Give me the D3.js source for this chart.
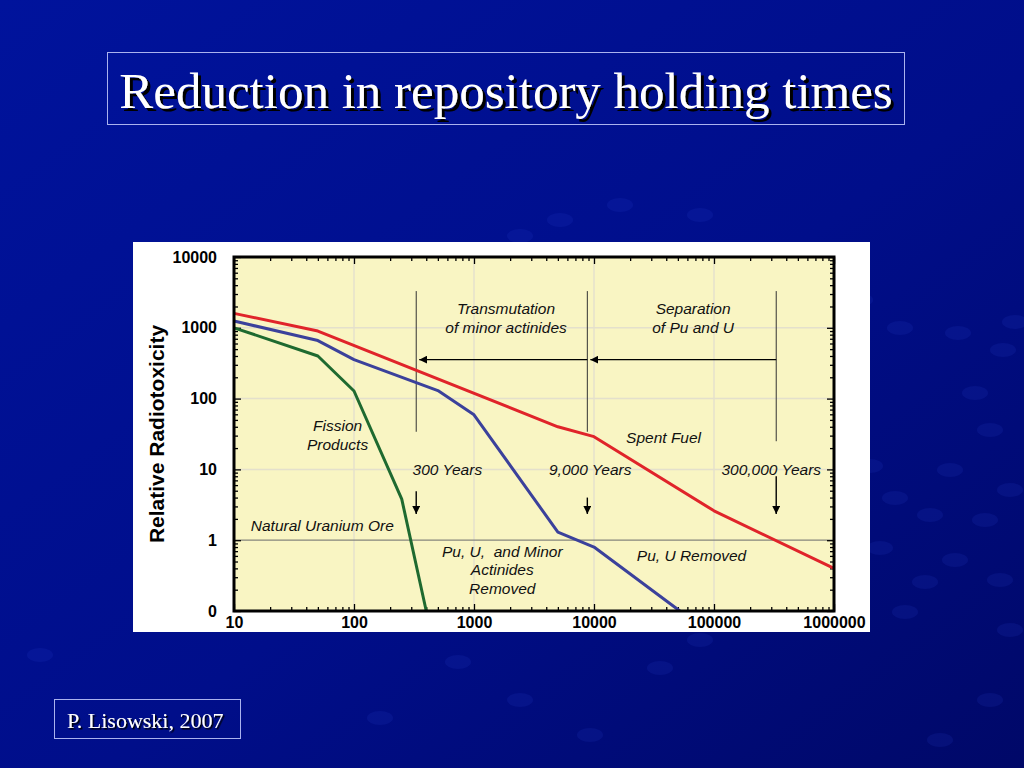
<!DOCTYPE html>
<html>
<head>
<meta charset="utf-8">
<script src="https://cdn.jsdelivr.net/npm/d3@7"></script>
<style>
  html, body { margin: 0; padding: 0; background: #000c8a; }
  svg { display: block; }
  .tick text { font-family: "Liberation Sans", Arial, sans-serif; font-weight: bold; font-size: 16px; fill: #000; }
  .note { font-family: "Liberation Sans", Arial, sans-serif; font-style: italic; font-size: 15.5px; fill: #111; }
</style>
</head>
<body>
<svg id="slide" width="1024" height="768"></svg>
<script>
// data (years after discharge, relative radiotoxicity)
const spentFuelYears = [10, 50, 5000, 10000, 100000, 1000000];
const spentFuelTox   = [1600, 900, 40, 29, 2.6, 0.4];

const puURemovedYears = [10, 50, 100, 500, 1000, 5000, 10000, 52000];
const puURemovedTox   = [1250, 660, 355, 130, 59, 1.3, 0.8, 0.1];

const fissionYears = [10, 50, 100, 250, 400];
const fissionTox   = [1000, 400, 128, 3.8, 0.1];

const xTicks = [10, 100, 1000, 10000, 100000, 1000000];
const yTicks = [0.1, 1, 10, 100, 1000, 10000];
const yTickLabels = ["0", "1", "10", "100", "1000", "10000"];

const uraniumOre = 1;

// holding-time markers
const holdingLabels = ["300 Years", "9,000 Years", "300,000 Years"];
const holdingYears  = [330, 8800, 330000];
const holdingLineBottom = [34, 34, 25];
const holdingLineTop = 3300;
const holdingArrowTop = [4.9, 4.0, 8.0];
const holdingArrowTip = 2.35;
const holdingLabelYears = [600, 9300, 300000];
const separationArrowY = 355;

// text notes: [text, years, value, anchor]
const notes = [
  ["Transmutation", 1850, 1860, "middle"],
  ["of minor actinides", 1850, 1000, "middle"],
  ["Separation", 67000, 1860, "middle"],
  ["of Pu and U", 67000, 1000, "middle"],
  ["Fission", 73, 41, "middle"],
  ["Products", 73, 22.5, "middle"],
  ["Spent Fuel", 38000, 28, "middle"],
  ["Natural Uranium Ore", 13.8, 1.63, "start"],
  ["Pu, U,\u00a0 and Minor", 1720, 0.7, "middle"],
  ["Actinides", 1720, 0.38, "middle"],
  ["Removed", 1720, 0.205, "middle"],
  ["Pu, U Removed", 65000, 0.6, "middle"]
];

const svg = d3.select("#slide");
const W = +svg.attr("width"), H = +svg.attr("height");

// background
const defs = svg.append("defs");
const bg = defs.append("linearGradient").attr("id", "bg")
  .attr("x1", "0").attr("y1", "0").attr("x2", "1").attr("y2", "1");
bg.append("stop").attr("offset", "0").attr("stop-color", "#00139c");
bg.append("stop").attr("offset", "0.55").attr("stop-color", "#000e8a");
bg.append("stop").attr("offset", "1").attr("stop-color", "#000868");
svg.append("rect").attr("width", W).attr("height", H).attr("fill", "url(#bg)");

const shadow = defs.append("filter").attr("id", "shadow")
  .attr("x", "-5%").attr("y", "-20%").attr("width", "110%").attr("height", "140%");
shadow.append("feDropShadow").attr("dx", 3).attr("dy", 3).attr("stdDeviation", 0.6)
  .attr("flood-color", "#000").attr("flood-opacity", 1);
const shadowSmall = defs.append("filter").attr("id", "shadowSmall")
  .attr("x", "-5%").attr("y", "-20%").attr("width", "110%").attr("height", "140%");
shadowSmall.append("feDropShadow").attr("dx", 1.5).attr("dy", 1.5).attr("stdDeviation", 0.4)
  .attr("flood-color", "#000").attr("flood-opacity", 1);

// faint bubble texture
const bubbles = [[958,333],[1003,350],[1015,322],[975,393],[990,430],[950,470],[930,515],[1010,490],
  [985,520],[955,560],[905,612],[925,582],[880,548],[895,498],[870,466],[1000,580],[1010,630],
  [590,735],[660,668],[458,662],[520,700],[380,718],[700,640],[40,655],[990,700],[940,740],
  [560,220],[620,205],[700,215],[520,236],[900,328],[860,300]];
svg.append("g").selectAll("ellipse").data(bubbles).join("ellipse")
  .attr("cx", d => d[0]).attr("cy", d => d[1]).attr("rx", 13).attr("ry", 7)
  .attr("fill", "#2a4ad8").attr("opacity", 0.14);

// title
svg.append("rect").attr("x", 107.5).attr("y", 52.5).attr("width", 797).attr("height", 72)
  .attr("fill", "none").attr("stroke", "#aab2ee").attr("stroke-width", 1);
svg.append("text").attr("x", 506).attr("y", 108).attr("text-anchor", "middle")
  .attr("font-family", "Liberation Serif, Times New Roman, serif").attr("font-size", 51)
  .attr("fill", "#fff").attr("filter", "url(#shadow)")
  .text("Reduction in repository holding times");

// footer
svg.append("rect").attr("x", 54.5).attr("y", 699.5).attr("width", 186).attr("height", 39)
  .attr("fill", "none").attr("stroke", "#aab2ee").attr("stroke-width", 1);
svg.append("text").attr("x", 67).attr("y", 728)
  .attr("font-family", "Liberation Serif, Times New Roman, serif").attr("font-size", 22)
  .attr("fill", "#fff").attr("filter", "url(#shadowSmall)").text("P. Lisowski, 2007");

// chart panel
svg.append("rect").attr("x", 133).attr("y", 242).attr("width", 737).attr("height", 390).attr("fill", "#fff");

const plot = { left: 234, top: 257, right: 834, bottom: 611 };
const x = d3.scaleLog().domain([10, 1000000]).range([plot.left, plot.right]);
const y = d3.scaleLog().domain([0.1, 10000]).range([plot.bottom, plot.top]);

const chart = svg.append("g");
chart.append("rect").attr("x", plot.left).attr("y", plot.top)
  .attr("width", plot.right - plot.left).attr("height", plot.bottom - plot.top)
  .attr("fill", "#f9f5c3");

// grid
chart.append("g").selectAll("line.vg").data(xTicks.slice(1, -1)).join("line")
  .attr("x1", d => x(d)).attr("x2", d => x(d)).attr("y1", plot.top).attr("y2", plot.bottom)
  .attr("stroke", "#e4e0cc").attr("stroke-width", 1.5);
chart.append("g").selectAll("line.hg").data(yTicks.slice(1, -1).filter(d => d !== uraniumOre)).join("line")
  .attr("y1", d => y(d)).attr("y2", d => y(d)).attr("x1", plot.left).attr("x2", plot.right)
  .attr("stroke", "#e4e0cc").attr("stroke-width", 1.5);
chart.append("line")
  .attr("x1", plot.left).attr("x2", plot.right).attr("y1", y(uraniumOre)).attr("y2", y(uraniumOre))
  .attr("stroke", "#85857c").attr("stroke-width", 1.2);

// minor ticks
function minors(lo, hi) {
  let out = [];
  for (let d = lo; d < hi; d *= 10) for (let m = 2; m <= 9; m++) out.push(d * m);
  return out;
}
const xMinor = minors(10, 1000000);
const yMinor = minors(0.1, 10000);

function tickAxis(gen, scale, values, size, tx, ty) {
  chart.append("g").attr("transform", `translate(${tx},${ty})`)
    .call(gen(scale).tickValues(values).tickSize(size).tickFormat(""))
    .call(g => g.select(".domain").remove())
    .call(g => g.selectAll(".tick line").attr("stroke", "#000").attr("stroke-width", 1.3));
}
tickAxis(d3.axisBottom, x, xMinor, -4, 0, plot.bottom);
tickAxis(d3.axisTop, x, xMinor, -4, 0, plot.top);
tickAxis(d3.axisLeft, y, yMinor, -4, plot.left, 0);
tickAxis(d3.axisRight, y, yMinor, -4, plot.right, 0);
tickAxis(d3.axisTop, x, xTicks, -7, 0, plot.top);
tickAxis(d3.axisRight, y, yTicks, -7, plot.right, 0);

// labelled axes
chart.append("g").attr("transform", `translate(0,${plot.bottom})`)
  .call(d3.axisBottom(x).tickValues(xTicks).tickSize(-7).tickPadding(6).tickFormat(d3.format("d")))
  .call(g => g.select(".domain").remove())
  .call(g => g.selectAll(".tick line").attr("stroke", "#000").attr("stroke-width", 1.3));
chart.append("g").attr("transform", `translate(${plot.left},0)`)
  .call(d3.axisLeft(y).tickValues(yTicks).tickSize(-7).tickPadding(17)
    .tickFormat((d, i) => yTickLabels[i]))
  .call(g => g.select(".domain").remove())
  .call(g => g.selectAll(".tick line").attr("stroke", "#000").attr("stroke-width", 1.3));

chart.append("text")
  .attr("transform", `translate(157,${(plot.top + plot.bottom) / 2}) rotate(-90)`)
  .attr("text-anchor", "middle").attr("dy", "0.35em")
  .attr("font-family", "Liberation Sans, Arial, sans-serif").attr("font-weight", "bold")
  .attr("font-size", 21).attr("fill", "#000")
  .text("Relative Radiotoxicity");

// annotation lines and arrows
defs.append("marker").attr("id", "head").attr("viewBox", "0 0 10 10")
  .attr("refX", 10).attr("refY", 5).attr("markerWidth", 8).attr("markerHeight", 8)
  .attr("markerUnits", "userSpaceOnUse").attr("orient", "auto")
  .append("path").attr("d", "M0,0 L10,5 L0,10 Z").attr("fill", "#000");

const ann = chart.append("g");
ann.selectAll("line.hold").data(holdingYears).join("line")
  .attr("x1", d => x(d)).attr("x2", d => x(d))
  .attr("y1", y(holdingLineTop)).attr("y2", (d, i) => y(holdingLineBottom[i]))
  .attr("stroke", "#333").attr("stroke-width", 1);

ann.selectAll("line.sep").data([[holdingYears[2], holdingYears[1]], [holdingYears[1], holdingYears[0]]]).join("line")
  .attr("x1", d => x(d[0])).attr("x2", d => x(d[1]) + 3)
  .attr("y1", y(separationArrowY)).attr("y2", y(separationArrowY))
  .attr("stroke", "#000").attr("stroke-width", 1.4).attr("marker-end", "url(#head)");

ann.selectAll("line.down").data(holdingYears).join("line")
  .attr("x1", d => x(d)).attr("x2", d => x(d))
  .attr("y1", (d, i) => y(holdingArrowTop[i])).attr("y2", y(holdingArrowTip))
  .attr("stroke", "#000").attr("stroke-width", 1.4).attr("marker-end", "url(#head)");

ann.selectAll("text.hold").data(holdingLabels).join("text")
  .attr("class", "note").attr("text-anchor", "middle").attr("dy", "0.35em")
  .attr("x", (d, i) => x(holdingLabelYears[i])).attr("y", y(10))
  .text(d => d);

// curves
const line = d3.line().x(d => x(d[0])).y(d => y(d[1]));
const series = [
  { years: fissionYears, tox: fissionTox, color: "#1f6a30" },
  { years: puURemovedYears, tox: puURemovedTox, color: "#3b419b" },
  { years: spentFuelYears, tox: spentFuelTox, color: "#e0242a" }
];
chart.append("g").selectAll("path").data(series).join("path")
  .attr("d", s => line(s.years.map((yr, i) => [yr, s.tox[i]])))
  .attr("fill", "none").attr("stroke", s => s.color).attr("stroke-width", 3)
  .attr("stroke-linejoin", "round");

ann.selectAll("text.nt").data(notes).join("text")
  .attr("class", "note").attr("dy", "0.35em")
  .attr("text-anchor", d => d[3])
  .attr("x", d => x(d[1])).attr("y", d => y(d[2]))
  .text(d => d[0]);

// frame
chart.append("rect").attr("x", plot.left).attr("y", plot.top)
  .attr("width", plot.right - plot.left).attr("height", plot.bottom - plot.top)
  .attr("fill", "none").attr("stroke", "#000").attr("stroke-width", 3);
</script>
</body>
</html>
